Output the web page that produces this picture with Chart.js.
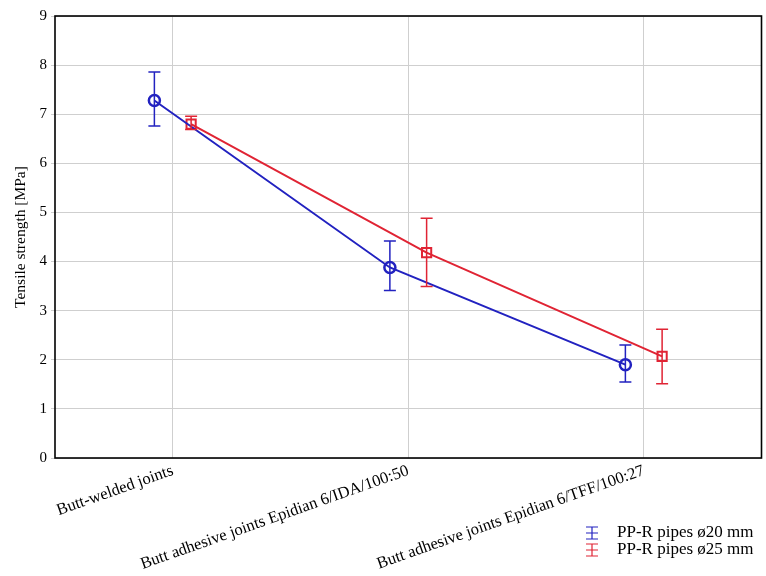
<!DOCTYPE html>
<html>
<head>
<meta charset="utf-8">
<script src="https://cdn.jsdelivr.net/npm/chart.js@4/dist/chart.umd.min.js"></script>
<style>
    body { margin: 0; background: #fff; overflow: hidden; }
    #wrap { width: 766px; height: 576px; overflow: hidden; }
</style>
</head>
<body>
<div id="wrap"><canvas id="strengthChart" width="770" height="576"></canvas></div>
<script>
// Dados
const categories = ['Butt-welded joints', 'Butt adhesive joints Epidian 6/IDA/100:50', 'Butt adhesive joints Epidian 6/TFF/100:27'];
const seriesNames = ['PP-R pipes ø20 mm', 'PP-R pipes ø25 mm'];
const pipes20 = [7.28, 3.88, 1.90];
const pipes20Low = [6.76, 3.41, 1.55];
const pipes20High = [7.86, 4.42, 2.30];
const pipes25 = [6.80, 4.18, 2.07];
const pipes25Low = [6.69, 3.49, 1.51];
const pipes25High = [6.96, 4.88, 2.62];
const yTicks = [0, 1, 2, 3, 4, 5, 6, 7, 8, 9];

const BLUE = '#2222c0';
const RED = '#e02434';
const SHIFT = 0.078;
const FONT = 'Liberation Serif';

function toPoints(values, shift) {
    return values.map((v, i) => ({ x: i + shift, y: v }));
}

// Barras de erro desenhadas pelas escalas do Chart.js
const errorBars = {
    id: 'errorBars',
    afterDatasetsDraw(chart) {
        const { ctx, scales: { x, y } } = chart;
        chart.data.datasets.forEach((ds) => {
            ctx.save();
            ctx.strokeStyle = ds.borderColor;
            ctx.lineWidth = 1.5;
            ds.data.forEach((p, i) => {
                const px = x.getPixelForValue(p.x);
                const top = y.getPixelForValue(ds.high[i]);
                const bot = y.getPixelForValue(ds.low[i]);
                ctx.beginPath();
                ctx.moveTo(px, top); ctx.lineTo(px, bot);
                ctx.moveTo(px - 6, top); ctx.lineTo(px + 6, top);
                ctx.moveTo(px - 6, bot); ctx.lineTo(px + 6, bot);
                ctx.stroke();
            });
            ctx.restore();
        });
    },
    afterDraw(chart) {
        const { ctx, chartArea: a } = chart;
        ctx.save();
        // moldura
        ctx.strokeStyle = '#000';
        ctx.lineWidth = 1.6;
        ctx.strokeRect(a.left, a.top, a.right - a.left, a.bottom - a.top);
        // legenda
        ctx.font = '17px "' + FONT + '"';
        ctx.textBaseline = 'middle';
        chart.data.datasets.forEach((ds, i) => {
            const yy = 533 + i * 17;
            ctx.strokeStyle = ds.borderColor;
            ctx.lineWidth = 1.2;
            ctx.beginPath();
            ctx.moveTo(592, yy - 6); ctx.lineTo(592, yy + 6);
            ctx.moveTo(586, yy - 6); ctx.lineTo(598, yy - 6);
            ctx.moveTo(586, yy + 6); ctx.lineTo(598, yy + 6);
            ctx.moveTo(586, yy); ctx.lineTo(598, yy);
            ctx.stroke();
            ctx.fillStyle = '#000';
            ctx.fillText(ds.label, 617, yy);
        });
        ctx.restore();
    }
};

const ctx = document.getElementById('strengthChart').getContext('2d');
new Chart(ctx, {
    type: 'line',
    data: {
        datasets: [
            {
                label: seriesNames[0],
                data: toPoints(pipes20, -SHIFT),
                low: pipes20Low,
                high: pipes20High,
                borderColor: BLUE,
                backgroundColor: 'rgba(0,0,0,0)',
                borderWidth: 2,
                pointStyle: 'circle',
                pointRadius: 5.5,
                pointBorderWidth: 2.5,
                tension: 0,
            },
            {
                label: seriesNames[1],
                data: toPoints(pipes25, SHIFT),
                low: pipes25Low,
                high: pipes25High,
                borderColor: RED,
                backgroundColor: 'rgba(0,0,0,0)',
                borderWidth: 2,
                pointStyle: 'rect',
                pointRadius: 6.5,
                pointBorderWidth: 2,
                tension: 0,
            },
        ],
    },
    options: {
        responsive: false,
        animation: false,
        layout: { padding: { top: 16, right: 0, left: 12, bottom: 0 } },
        plugins: {
            legend: { display: false },
            tooltip: { enabled: false },
        },
        scales: {
            x: {
                type: 'linear',
                min: -0.5,
                max: 2.5,
                afterBuildTicks(scale) {
                    scale.ticks = categories.map((c, i) => ({ value: i }));
                },
                afterFit(scale) { scale.height = 118; },
                grid: { color: '#cfcfcf', lineWidth: 1, drawTicks: false },
                border: { display: false },
                ticks: {
                    minRotation: 19.5,
                    maxRotation: 19.5,
                    padding: 3,
                    color: '#000',
                    font: { family: FONT, size: 16.5 },
                    callback: (v) => categories[v] ?? '',
                },
            },
            y: {
                min: 0,
                max: 9,
                afterBuildTicks(scale) {
                    scale.ticks = yTicks.map((v) => ({ value: v }));
                },
                afterFit(scale) { scale.width = 43; },
                grid: { color: '#cfcfcf', lineWidth: 1, tickLength: 4 },
                border: { display: false },
                ticks: {
                    padding: 4,
                    color: '#000',
                    font: { family: FONT, size: 15 },
                },
                title: {
                    display: true,
                    text: 'Tensile strength [MPa]',
                    color: '#000',
                    padding: 0,
                    font: { family: FONT, size: 15.5 },
                },
            },
        },
    },
    plugins: [errorBars],
});
</script>
</body>
</html>
